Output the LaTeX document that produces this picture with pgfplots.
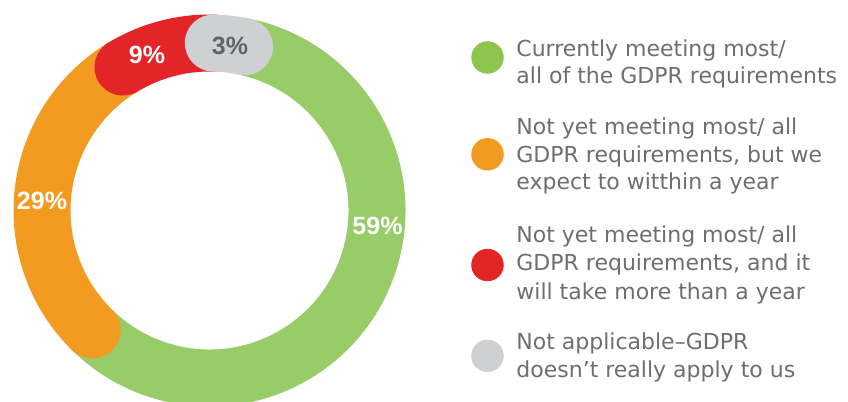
\documentclass[border=0pt]{standalone}
\usepackage{pgfplots}
\pgfplotsset{compat=1.18}
\usepackage{fontspec}
\setmainfont{DejaVu Sans}
\newfontfamily\labelfont{Liberation Sans}
\definecolor{cgreen}{HTML}{97CC68}
\definecolor{lgreen}{HTML}{8DC54D}
\definecolor{corange}{HTML}{F39B21}
\definecolor{cred}{HTML}{E32528}
\definecolor{cgrey}{HTML}{CFD0D2}
\definecolor{txtgrey}{HTML}{6D6E72}
\definecolor{lblgrey}{HTML}{5F6266}
% shares (percent), drawn clockwise from the top
\def\pGreen{59}
\def\pOrange{29}
\def\pRed{9}
\def\pGrey{3}
\pgfmathsetmacro\aA{77.9}
\pgfmathsetmacro\aB{\aA-3.6*\pGreen}
\pgfmathsetmacro\aC{\aB-3.6*\pOrange}
\pgfmathsetmacro\aD{\aC-3.6*\pRed}
\pgfmathsetmacro\aE{\aD-3.6*\pGrey}
\def\rmid{83.75pt}
\def\band{28.5pt}
\begin{document}
\begin{tikzpicture}
\useasboundingbox (0,0) rectangle (424pt,201pt);
\begin{axis}[at={(0,0)}, anchor=south west, scale only axis,
  width=424pt, height=201pt, xmin=0, xmax=848, ymin=0, ymax=402,
  y dir=reverse, hide axis, clip=false]
% donut ring
\draw[cgreen, line width=\band, line cap=round] (axis cs:209.5,210.5) ++(\aA:\rmid) arc[start angle=\aA, end angle=\aB, radius=\rmid];
\draw[corange, line width=\band, line cap=round] (axis cs:209.5,210.5) ++(\aB:\rmid) arc[start angle=\aB, end angle=\aC, radius=\rmid];
\draw[cred, line width=\band, line cap=round] (axis cs:209.5,210.5) ++(\aC:\rmid) arc[start angle=\aC, end angle=\aD, radius=\rmid];
\draw[cgrey, line width=\band, line cap=round] (axis cs:209.5,210.5) ++(\aD:\rmid) arc[start angle=\aD, end angle=\aE, radius=\rmid];
% ring labels
\node[anchor=base, font=\labelfont\bfseries\fontsize{12.5}{14}\selectfont, text=white] at (axis cs:377.5,235) {\pGreen\%};
\node[anchor=base, font=\labelfont\bfseries\fontsize{12.5}{14}\selectfont, text=white] at (axis cs:42,210) {\pOrange\%};
\node[anchor=base, font=\labelfont\bfseries\fontsize{12.5}{14}\selectfont, text=white] at (axis cs:147,64) {\pRed\%};
\node[anchor=base, font=\labelfont\bfseries\fontsize{12.5}{14}\selectfont, text=lblgrey] at (axis cs:230,55) {\pGrey\%};
% legend markers
\addplot[only marks, mark=*, mark size=7.9pt, color=lgreen, mark options={draw=none, fill=lgreen}] coordinates {(487.5,57.5)};
\addplot[only marks, mark=*, mark size=7.9pt, color=corange, mark options={draw=none, fill=corange}] coordinates {(487.5,154.3)};
\addplot[only marks, mark=*, mark size=7.9pt, color=cred, mark options={draw=none, fill=cred}] coordinates {(487.5,265)};
\addplot[only marks, mark=*, mark size=7.9pt, color=cgrey, mark options={draw=none, fill=cgrey}] coordinates {(487.5,355.8)};
% legend text
\tikzset{lt/.style={anchor=base west, inner sep=0pt, text=txtgrey, font=\fontsize{11}{13}\selectfont}}
\node[lt] at (axis cs:516,57) {Currently meeting most/};
\node[lt] at (axis cs:516,84) {all of the GDPR requirements};
\node[lt] at (axis cs:516,135) {Not yet meeting most/ all};
\node[lt] at (axis cs:516,162.5) {GDPR requirements, but we};
\node[lt] at (axis cs:516,190) {expect to witthin a year};
\node[lt] at (axis cs:516,243) {Not yet meeting most/ all};
\node[lt] at (axis cs:516,271) {GDPR requirements, and it};
\node[lt] at (axis cs:516,299) {will take more than a year};
\node[lt] at (axis cs:516,349.5) {Not applicable–GDPR};
\node[lt] at (axis cs:516,377) {doesn’t really apply to us};
\end{axis}
\end{tikzpicture}
\end{document}
